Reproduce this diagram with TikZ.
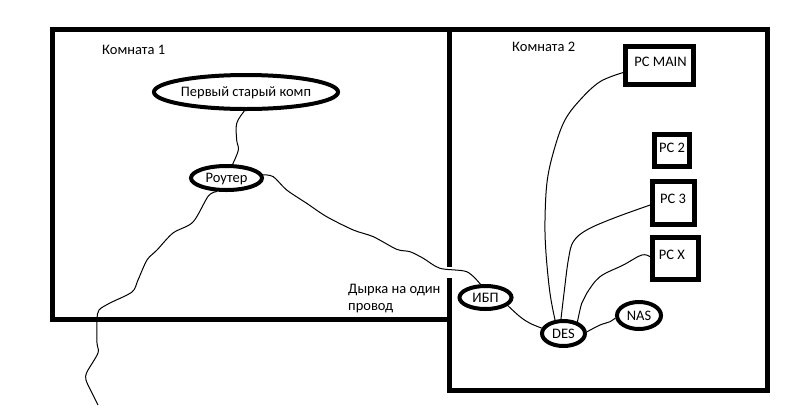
\documentclass[tikz,border=0pt]{standalone}
\usepackage{fontspec}
\setmainfont{Carlito}
\usetikzlibrary{shapes.geometric}
\begin{document}
\begin{tikzpicture}[x=1pt,y=-1pt,
  every node/.style={font=\fontsize{14.5}{18}\selectfont, text depth=0pt, inner sep=0pt},
  wall/.style={line width=5pt, line join=miter},
  oval/.style={ellipse, draw, line width=4pt},
  pcbox/.style={rectangle, draw, line width=5pt},
  wire/.style={line width=1pt},
  lbl/.style={anchor=base west}]
\useasboundingbox[fill=white] (0,0) rectangle (789,413);
% walls
\draw[wall] (449,29.5) -- (52,29.5) -- (52,319.5) -- (449,319.5);
\draw[wall] (449,267) -- (449,29.5) -- (767,29.5) -- (767,390) -- (449,390) -- (449,278);
% labels
\node[lbl] (room1) at (102,54) {Комната 1};
\node[lbl] (room2) at (512,51) {Комната 2};
\node[lbl] (hole1) at (348,293.3) {Дырка на один};
\node[lbl] (hole2) at (348,310.7) {провод};
% room 1 nodes
\node[oval, minimum width=162pt, minimum height=34pt] (komp) at (246,92) {Первый старый комп};
\node[oval, minimum width=71pt, minimum height=24pt] (router) at (226.5,178) {Роутер};
% room 2 nodes
\node[oval, minimum width=52pt, minimum height=23pt] (ibp) at (485.5,297.5) {ИБП};
\node[oval, minimum width=43pt, minimum height=25pt] (des) at (563.5,333.5) {DES};
\node[oval, minimum width=44pt, minimum height=27pt] (nas) at (639,315.5) {NAS};
\node[pcbox, minimum width=68pt, minimum height=38pt,
  label={[name=pcmaint, xshift=1pt, yshift=4pt]center:PC MAIN}] (pcmain) at (659.5,65.5) {};
\node[pcbox, minimum width=35pt, minimum height=32pt,
  label={[name=pc2t, yshift=2.5pt]center:PC 2}] (pc2) at (672,150.5) {};
\node[pcbox, minimum width=42pt, minimum height=43pt,
  label={[name=pc3t, xshift=-0.5pt, yshift=4pt]center:PC 3}] (pc3) at (673.5,203) {};
\node[pcbox, minimum width=46pt, minimum height=42pt,
  label={[name=pcxt, xshift=-3.5pt, yshift=3.5pt]center:PC X}] (pcx) at (675.5,258.5) {};
\coordinate (outside) at (98,405);
% wires
\draw[wire] plot[smooth, tension=0.6] coordinates {(komp.-95) (236.7,123.3) (236.7,140) (238.3,150) (router.66)};
\draw[wire] plot[smooth, tension=0.5] coordinates {(router.5) (273.3,176.7) (286.7,190) (306.7,203.3) (326.7,216.7) (353.3,230) (373.3,236.7) (396.7,249.3) (410,251.7) (423.3,258.3) (440,268.3) (466.7,271.7) (ibp.111)};
\draw[wire] plot[smooth, tension=0.5] coordinates {(router.-125) (208.3,196) (193,222) (173,233) (157,250) (147,260) (138,280) (132,292) (110,303) (99,310) (97,320) (97,343) (98,353) (87,372) (86,380) (92,393) (outside)};
\draw[wire] plot[smooth, tension=0.6] coordinates {(ibp.-20) (520,316.7) (530,323.3) (des.166)};
\draw[wire] plot[smooth, tension=0.6] coordinates {(des.4) (600,325) (610,321.7) (nas.186)};
\draw[wire] plot[smooth, tension=0.6] coordinates {(des.122) (550,293.3) (546,253.3) (545,220) (547.3,180) (555,146.7) (565,120) (580,100) (600,81.7) (pcmain.191)};
\draw[wire] plot[smooth, tension=0.6] coordinates {(des.100) (564,293.3) (568.3,260) (573.3,241.7) (586.7,230) (613.3,218.3) (pc3.185)};
\draw[wire] plot[smooth, tension=0.6] coordinates {(des.40) (581.7,303.3) (586.7,293.3) (600,276.7) (623.3,265) (641.7,255) (pcx.176)};
\end{tikzpicture}
\end{document}
